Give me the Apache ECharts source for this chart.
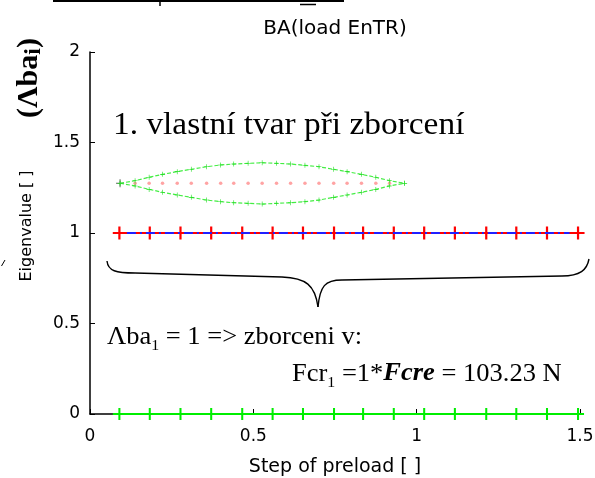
<!DOCTYPE html>
<html>
<head>
<meta charset="utf-8">
<script src="https://cdn.jsdelivr.net/npm/echarts@6/dist/echarts.min.js"></script>
<style>
  html, body { margin: 0; padding: 0; background: #fff; }
  #chart { width: 595px; height: 478px; }
</style>
</head>
<body>
<div id="chart"></div>
<script>
// Preload steps at which the eigenvalue problem was solved
const steps = [0.090, 0.183, 0.277, 0.371, 0.466, 0.559, 0.652, 0.747,
               0.836, 0.930, 1.023, 1.117, 1.213, 1.305, 1.399, 1.494];
// First eigenvalue (buckling) and the trivial zero eigenvalue at each step
const eigenFirst = [1, 1, 1, 1, 1, 1, 1, 1, 1, 1, 1, 1, 1, 1, 1, 1];
const eigenZero  = [0, 0, 0, 0, 0, 0, 0, 0, 0, 0, 0, 0, 0, 0, 0, 0];
// Extent of the connecting lines
const lineFirstX = [0.070, 1.508];
const lineZeroX  = [0.070, 1.514];
const dashFirstX = [0.113, 1.468];

// First buckling mode shape, sketched over the plot
const modeX     = [0.092, 0.138, 0.181, 0.222, 0.267, 0.310, 0.357, 0.400, 0.440, 0.484, 0.527,
                   0.571, 0.614, 0.658, 0.701, 0.746, 0.787, 0.831, 0.875, 0.917, 0.963];
const modeUpper = [1.275, 1.289, 1.308, 1.324, 1.339, 1.352, 1.366, 1.376, 1.381, 1.385, 1.388,
                   1.385, 1.381, 1.374, 1.366, 1.352, 1.339, 1.324, 1.308, 1.289, 1.275];
const modeLower = [1.275, 1.260, 1.241, 1.225, 1.210, 1.197, 1.182, 1.173, 1.167, 1.164, 1.160,
                   1.164, 1.167, 1.173, 1.182, 1.197, 1.210, 1.225, 1.241, 1.260, 1.275];
const modeAxis  = [1.275, 1.275, 1.275, 1.275, 1.275, 1.275, 1.275, 1.275, 1.275, 1.275, 1.275,
                   1.275, 1.275, 1.275, 1.275, 1.275, 1.275, 1.275, 1.275, 1.275, 1.275];

const xTicks = { min: 0, max: 1.5, interval: 0.5 };
const yTicks = { min: 0, max: 2, interval: 0.5 };

const PLUS = 'path://M-0.17,-1H0.17V-0.17H1V0.17H0.17V1H-0.17V0.17H-1V-0.17H-0.17Z';
const PLUS_THIN = 'path://M-0.12,-1H0.12V-0.12H1V0.12H0.12V1H-0.12V0.12H-1V-0.12H-0.12Z';

const pairs = (xs, ys) => xs.map((x, i) => [x, ys[i]]);
const sans = 'DejaVu Sans';
const serif = 'Liberation Serif';

const chart = echarts.init(document.getElementById('chart'), null, { renderer: 'canvas' });

chart.setOption({
  animation: false,
  backgroundColor: '#ffffff',
  title: {
    text: 'BA(load EnTR)',
    left: 330, top: 14, textAlign: 'center',
    textStyle: { fontFamily: sans, fontSize: 20, fontWeight: 'normal', color: '#000' }
  },
  grid: { left: 90, right: 15, top: 52, bottom: 64, containLabel: false, outerBoundsMode: 'none' },
  xAxis: {
    type: 'value', min: xTicks.min, max: xTicks.max, interval: xTicks.interval,
    name: 'Step of preload [ ]', nameLocation: 'middle', nameGap: 44,
    nameTextStyle: { fontFamily: sans, fontSize: 19, color: '#000' },
    axisLine: { show: true, onZero: false, lineStyle: { color: '#000', width: 1.5 } },
    axisTick: { show: true, inside: true, length: 5, lineStyle: { color: '#000' } },
    axisLabel: { fontFamily: sans, fontSize: 17, color: '#000', margin: 14, showMaxLabel: true, showMinLabel: true },
    splitLine: { show: false }
  },
  yAxis: {
    type: 'value', min: yTicks.min, max: yTicks.max, interval: yTicks.interval,
    name: 'Eigenvalue [ ]', nameLocation: 'middle', nameGap: 55, nameRotate: 90,
    nameTextStyle: { fontFamily: sans, fontSize: 16, color: '#000', padding: [0, 0, 0, 14] },
    axisLine: { show: true, lineStyle: { color: '#000', width: 1.5 } },
    axisTick: { show: true, inside: true, length: 5, lineStyle: { color: '#000' } },
    axisLabel: { fontFamily: sans, fontSize: 17, color: '#000', margin: 10 },
    splitLine: { show: false }
  },
  series: [
    // eigenvalue 1 : red line with blue dash-dot overlay
    {
      type: 'line', data: pairs(lineFirstX, [eigenFirst[0], eigenFirst[eigenFirst.length - 1]]),
      symbol: 'none', clip: false, silent: true,
      lineStyle: { color: '#ff0000', width: 2 }
    },
    {
      type: 'line', data: pairs(dashFirstX, [eigenFirst[0], eigenFirst[eigenFirst.length - 1]]),
      symbol: 'none', clip: false, silent: true,
      lineStyle: { color: '#2020ff', width: 2, type: [9, 4, 2, 4] }
    },
    {
      type: 'scatter', data: pairs(steps, eigenFirst), clip: false,
      symbol: PLUS, symbolSize: 13, itemStyle: { color: '#ff0000', opacity: 1 }
    },
    // eigenvalue 0 : green line
    {
      type: 'line', data: pairs(lineZeroX, [eigenZero[0], eigenZero[eigenZero.length - 1]]),
      symbol: 'none', clip: false, silent: true,
      lineStyle: { color: '#00ee00', width: 2 }
    },
    {
      type: 'scatter', data: pairs(steps, eigenZero), clip: false,
      symbol: PLUS, symbolSize: 12, itemStyle: { color: '#00ee00', opacity: 1 }
    },
    // buckling mode shape
    {
      type: 'line', data: pairs(modeX, modeUpper), clip: false,
      symbol: PLUS_THIN, symbolSize: 5, showAllSymbol: true,
      itemStyle: { color: '#22dd22' },
      lineStyle: { color: '#44ee44', width: 1.2, type: [4, 2] }
    },
    {
      type: 'line', data: pairs(modeX, modeLower), clip: false,
      symbol: PLUS_THIN, symbolSize: 5, showAllSymbol: true,
      itemStyle: { color: '#22dd22' },
      lineStyle: { color: '#44ee44', width: 1.2, type: [4, 2] }
    },
    {
      type: 'scatter', data: pairs(modeX.slice(1, -1), modeAxis.slice(1, -1)), clip: false,
      symbol: 'circle', symbolSize: 3.5, itemStyle: { color: '#ff8c8c' }
    },
    {
      type: 'scatter', data: [[modeX[0], modeAxis[0]]], clip: false,
      symbol: PLUS_THIN, symbolSize: 8, itemStyle: { color: '#333' }
    }
  ],
  graphic: [
    // brace under the eigenvalue-1 line
    { type: 'bezierCurve', silent: true, shape: { x1: 107, y1: 261, cpx1: 108, cpy1: 271, cpx2: 116, cpy2: 273, x2: 135, y2: 273 }, style: { stroke: '#000', lineWidth: 1.4, fill: null } },
    { type: 'line', silent: true, shape: { x1: 135, y1: 273, x2: 282, y2: 277 }, style: { stroke: '#000', lineWidth: 1.4 } },
    { type: 'bezierCurve', silent: true, shape: { x1: 282, y1: 277, cpx1: 306, cpy1: 278, cpx2: 315, cpy2: 285, x2: 318, y2: 307 }, style: { stroke: '#000', lineWidth: 1.4, fill: null } },
    { type: 'bezierCurve', silent: true, shape: { x1: 318, y1: 307, cpx1: 320, cpy1: 286, cpx2: 325, cpy2: 280, x2: 342, y2: 280 }, style: { stroke: '#000', lineWidth: 1.4, fill: null } },
    { type: 'line', silent: true, shape: { x1: 342, y1: 280, x2: 562, y2: 276 }, style: { stroke: '#000', lineWidth: 1.4 } },
    { type: 'bezierCurve', silent: true, shape: { x1: 562, y1: 276, cpx1: 580, cpy1: 276, cpx2: 587, cpy2: 270, x2: 589, y2: 259 }, style: { stroke: '#000', lineWidth: 1.4, fill: null } },
    { type: 'line', silent: true, shape: { x1: 1.5, y1: 266, x2: 5, y2: 260 }, style: { stroke: '#000', lineWidth: 1 } },

    // rule along the top edge
    { type: 'line', silent: true, shape: { x1: 53, y1: 1, x2: 344, y2: 1 }, style: { stroke: '#000', lineWidth: 2 } },
    { type: 'line', silent: true, shape: { x1: 160, y1: 0, x2: 160, y2: 6 }, style: { stroke: '#000', lineWidth: 1.5 } },
    { type: 'line', silent: true, shape: { x1: 300, y1: 4.5, x2: 316, y2: 4.5 }, style: { stroke: '#000', lineWidth: 1.5 } },

    // annotations
    {
      type: 'text', silent: true, x: 113, y: 126, scaleX: 1.06,
      style: { text: '1. vlastní tvar při zborcení', font: '31.5px "Liberation Serif"', fill: '#000', textVerticalAlign: 'middle' }
    },
    {
      type: 'text', silent: true, x: 107, y: 337, scaleX: 1.06,
      style: {
        text: 'Λba{sub|1} = 1 => zborceni v:',
        fontFamily: serif, fontSize: 25, fill: '#000', lineHeight: 34, verticalAlign: 'middle',
        rich: { sub: { fontFamily: serif, fontSize: 15, lineHeight: 15, verticalAlign: 'bottom', fill: '#000' } }
      }
    },
    {
      type: 'text', silent: true, x: 292, y: 374, scaleX: 1.06,
      style: {
        text: 'Fcr{sub|1} =1*{bi|Fcre} = 103.23 N',
        fontFamily: serif, fontSize: 25, fill: '#000', lineHeight: 34, verticalAlign: 'middle',
        rich: {
          sub: { fontFamily: serif, fontSize: 15, lineHeight: 15, verticalAlign: 'bottom', fill: '#000' },
          bi: { fontFamily: serif, fontSize: 25, fontWeight: 'bold', fontStyle: 'italic', fill: '#000' }
        }
      }
    },
    {
      type: 'text', silent: true, x: 29, y: 78, rotation: Math.PI / 2,
      style: {
        text: '(Λba{sub|i})',
        fontFamily: serif, fontSize: 30, fontWeight: 'bold', fill: '#000', lineHeight: 34,
        align: 'center', verticalAlign: 'middle',
        rich: { sub: { fontFamily: serif, fontSize: 24, fontWeight: 'bold', lineHeight: 24, verticalAlign: 'bottom', fill: '#000' } }
      }
    }
  ]
});
</script>
</body>
</html>
